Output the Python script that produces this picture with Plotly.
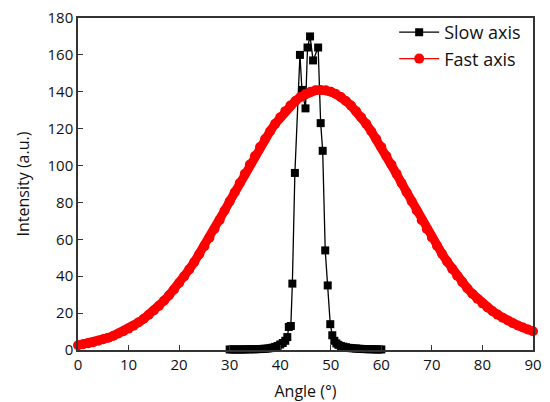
import plotly.graph_objects as go

# Slow axis (black squares)
slow_angle = [30, 30.5, 31, 31.5, 32, 32.5, 33, 33.5, 34, 34.5, 35, 35.5, 36, 36.5, 37, 37.5,
              38, 38.5, 39, 39.5, 40, 40.5, 41, 41.4, 41.7, 42.1, 42.4, 42.9, 43.9, 44.3, 45.0,
              45.4, 45.9, 46.5, 47.5, 48.0, 48.4, 48.9, 49.4, 49.9, 50.3, 50.7, 51.1, 51.5,
              52, 52.5, 53, 53.5, 54, 54.5, 55, 55.5, 56, 56.5, 57, 57.5, 58, 58.5, 59, 59.5, 60]
slow_val = [0.3, 0.3, 0.3, 0.3, 0.3, 0.3, 0.3, 0.4, 0.4, 0.4, 0.4, 0.5, 0.5, 0.6, 0.7, 0.8,
            1.0, 1.3, 1.7, 2.2, 3.0, 3.8, 5.0, 7.0, 12.5, 13, 36, 96, 160, 141, 131,
            164, 170, 157, 164, 123, 108, 54, 35, 14, 8, 5.0, 3.6, 2.8,
            2.2, 1.8, 1.5, 1.2, 1.0, 0.9, 0.8, 0.7, 0.6, 0.5, 0.5, 0.4, 0.4, 0.4, 0.3, 0.3, 0.3]

# Fast axis (red circles)
fast_angle = list(range(0, 91))
fast_val = [2.6, 3.1, 3.6, 4.2, 5.0, 5.8, 6.7, 7.7, 8.9, 10.2,
            11.6, 13.2, 15.0, 16.9, 19.1, 21.4, 23.9, 26.7, 29.7, 32.8,
            36.3, 39.9, 43.7, 47.7, 52.0, 56.3, 60.9, 65.6, 70.4, 75.6,
            80.6, 85.5, 90.5, 95.5, 100.6, 105.2, 110.0, 114.4, 118.6, 122.6,
            126.2, 129.5, 132.5, 135.0, 137.2, 138.8, 140.0, 140.8, 141.0, 140.8,
            140.0, 138.8, 137.2, 135.0, 132.5, 129.5, 126.2, 122.6, 118.6, 114.4,
            110.0, 105.2, 100.6, 95.5, 90.5, 85.5, 80.6, 75.6, 70.4, 65.6,
            61.0, 56.5, 52.2, 48.0, 44.0, 40.3, 36.8, 33.5, 30.5, 27.8,
            25.3, 23.0, 21.0, 19.2, 17.5, 16.0, 14.5, 13.3, 12.2, 11.1, 10.2]

FONT = "Open Sans"
RED = "#ff0000"

fig = go.Figure()
# thick red band joining the dense fast-axis markers (no legend entry)
fig.add_trace(go.Scatter(
    x=fast_angle, y=fast_val, mode="lines", showlegend=False, hoverinfo="skip",
    line=dict(color=RED, width=9), cliponaxis=False,
))
fig.add_trace(go.Scatter(
    x=slow_angle, y=slow_val, name="Slow axis", mode="lines+markers",
    line=dict(color="black", width=1.3),
    marker=dict(symbol="square", size=8, color="black"),
    cliponaxis=False,
))
fig.add_trace(go.Scatter(
    x=fast_angle, y=fast_val, name="Fast axis", mode="lines+markers",
    line=dict(color=RED, width=1.3),
    marker=dict(symbol="circle", size=10, color=RED),
    cliponaxis=False,
))

axis_common = dict(
    showline=True, linecolor="#333333", linewidth=1.5, mirror=True,
    ticks="inside", ticklen=5, tickwidth=1.2, tickcolor="#333333",
    showgrid=False, zeroline=False,
    tickfont=dict(family=FONT, size=15, color="#111111"),
    automargin=False,
)

fig.update_layout(
    width=550, height=402,
    margin=dict(l=78, r=17, t=18, b=52, autoexpand=False),
    plot_bgcolor="white", paper_bgcolor="white",
    font=dict(family=FONT, size=15, color="#111111"),
    showlegend=True,
    legend=dict(x=0.985, y=1.012, xanchor="right", yanchor="top",
                bgcolor="rgba(0,0,0,0)", borderwidth=0,
                font=dict(family=FONT, size=18, color="#111111"),
                itemwidth=40, tracegroupgap=0),
    xaxis=dict(range=[0, 90], dtick=10, tick0=0,
               title=dict(text="Angle (°)", font=dict(family=FONT, size=16), standoff=14),
               **axis_common),
    yaxis=dict(range=[0, 180], dtick=20, tick0=0,
               title=dict(text="Intensity (a.u.)", font=dict(family=FONT, size=16), standoff=14),
               **axis_common),
)

fig.write_html("out.html")
